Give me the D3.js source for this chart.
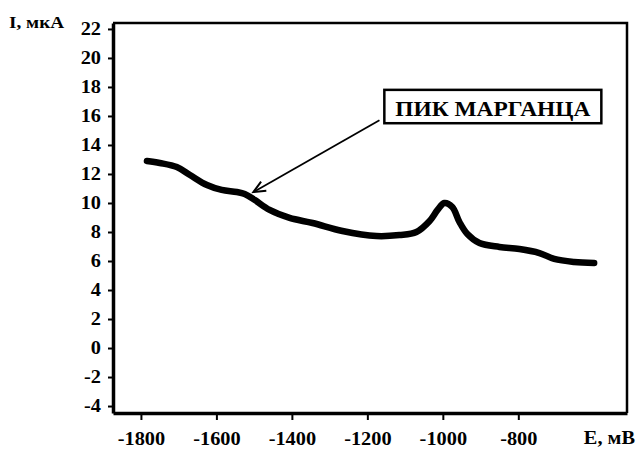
<!DOCTYPE html>
<html>
<head>
<meta charset="utf-8">
<script src="https://cdn.jsdelivr.net/npm/d3@7/dist/d3.min.js"></script>
<style>
  html, body { margin: 0; padding: 0; background: #fff; }
  svg { display: block; }
  text { font-family: "Liberation Serif", "Times New Roman", serif; font-weight: bold; fill: #000; }
</style>
</head>
<body>
<svg id="chart" width="639" height="451"></svg>
<script>
// Data
const potential = [-1784, -1750, -1705, -1670, -1625, -1586, -1546, -1525, -1498, -1459, -1406, -1345, -1266, -1176, -1115, -1070, -1035, -1014, -996, -975, -956, -935, -903, -850, -797, -744, -705, -652, -599];
const current   = [12.9, 12.76, 12.48, 11.93, 11.24, 10.9, 10.76, 10.62, 10.2, 9.52, 8.97, 8.62, 8.07, 7.72, 7.79, 8.0, 8.76, 9.52, 10.0, 9.72, 8.69, 7.86, 7.24, 6.97, 6.83, 6.55, 6.14, 5.93, 5.86];
const xTickValues = [-1800, -1600, -1400, -1200, -1000, -800];
const yTickValues = [-4, -2, 0, 2, 4, 6, 8, 10, 12, 14, 16, 18, 20, 22];
const xAxisTitle = "E, мВ";
const yAxisTitle = "I, мкА";
const annotationText = "ПИК МАРГАНЦА";
const annotationTarget = [-1502, 10.75];  // E, I pointed at
const annotationStart = [-1168, 15.7];    // E, I where arrow starts
const annotationBox = [-1155, -580, 17.8, 15.5]; // E0, E1, Itop, Ibottom

(function () {
const svg = d3.select("#chart");
svg.append("rect").attr("width", 639).attr("height", 451).attr("fill", "#fff");

const pLeft = 113, pRight = 627, pTop = 23, pBottom = 413;
const x = d3.scaleLinear().domain([-1874, -512]).range([pLeft, pRight]);
const y = d3.scaleLinear().domain([-4.48, 22.41]).range([pBottom, pTop]);
const fmt = d => String(d);
const stretch = 1.13;
function widen(sel) {
  sel.each(function () {
    const w = this.getComputedTextLength();
    d3.select(this).attr("textLength", w * stretch).attr("lengthAdjust", "spacingAndGlyphs");
  });
}

// frame top/right
svg.append("path")
  .attr("d", `M${pLeft},${pTop}H${pRight}V${pBottom}`)
  .attr("fill", "none").attr("stroke", "#000").attr("stroke-width", 2.5);

// y axis
const gy = svg.append("g").attr("transform", `translate(${pLeft},0)`)
  .call(d3.axisLeft(y).tickValues(yTickValues).tickFormat(fmt).tickSize(5).tickSizeOuter(0).tickPadding(7));
gy.select(".domain").attr("stroke-width", 3.5);
gy.selectAll(".tick line").attr("stroke-width", 2);
gy.selectAll(".tick text").attr("font-size", 18).attr("font-family", "Liberation Serif").attr("font-weight", "bold").call(widen);

// x axis
const gx = svg.append("g").attr("transform", `translate(0,${pBottom})`)
  .call(d3.axisBottom(x).tickValues(xTickValues).tickFormat(fmt).tickSize(7).tickSizeOuter(0).tickPadding(12));
gx.select(".domain").attr("stroke-width", 3.5);
gx.selectAll(".tick line").attr("stroke-width", 2);
gx.selectAll(".tick text").attr("font-size", 18).attr("font-family", "Liberation Serif").attr("font-weight", "bold").call(widen);

// axis titles
svg.append("text").attr("x", 635).attr("y", 444).attr("text-anchor", "end")
  .attr("font-size", 18).text(xAxisTitle).call(widen);
svg.append("text").attr("x", 9).attr("y", 28).attr("text-anchor", "start")
  .attr("font-size", 17).text(yAxisTitle).call(widen);

// curve
const pts = potential.map((e, i) => [e, current[i]]);
svg.append("path").datum(pts)
  .attr("fill", "none").attr("stroke", "#000").attr("stroke-width", 6.5)
  .attr("stroke-linecap", "round").attr("stroke-linejoin", "round")
  .attr("d", d3.line().x(d => x(d[0])).y(d => y(d[1])).curve(d3.curveCatmullRom.alpha(0.5)));

// annotation box
const bx0 = x(annotationBox[0]), bx1 = x(annotationBox[1]);
const by0 = y(annotationBox[2]), by1 = y(annotationBox[3]);
svg.append("rect").attr("x", bx0).attr("y", by0).attr("width", bx1 - bx0).attr("height", by1 - by0)
  .attr("fill", "#fff").attr("stroke", "#000").attr("stroke-width", 2.5);
svg.append("text").attr("x", bx0 + 11).attr("y", by1 - 7)
  .attr("font-size", 21).attr("textLength", bx1 - bx0 - 22).attr("lengthAdjust", "spacingAndGlyphs")
  .text(annotationText);

// arrow
const sx = x(annotationStart[0]), sy = y(annotationStart[1]);
const tx = x(annotationTarget[0]), ty = y(annotationTarget[1]);
svg.append("line").attr("x1", sx).attr("y1", sy).attr("x2", tx).attr("y2", ty)
  .attr("stroke", "#000").attr("stroke-width", 1.8);
const ang = Math.atan2(ty - sy, tx - sx);
const hl = 13, ha = 0.42;
const head = [
  [tx - hl * Math.cos(ang - ha), ty - hl * Math.sin(ang - ha)],
  [tx, ty],
  [tx - hl * Math.cos(ang + ha), ty - hl * Math.sin(ang + ha)]
];
svg.append("path").attr("d", d3.line()(head))
  .attr("fill", "none").attr("stroke", "#000").attr("stroke-width", 2);
})();
</script>
</body>
</html>
